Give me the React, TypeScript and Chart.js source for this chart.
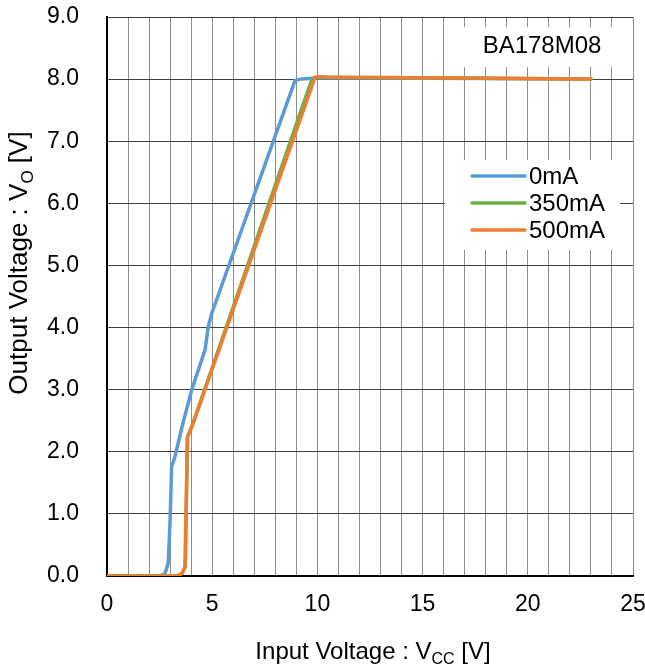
import React, { useEffect, useRef } from "react";
import { Chart, registerables } from "chart.js";

Chart.register(...registerables);

// 0 mA
const blueX = [0, 2.5, 2.76, 2.91, 3.0, 3.07, 3.23, 3.6, 4.03, 4.66, 4.81, 4.98, 8.94, 9.2, 10.2, 23.0];
const blueY = [0, 0, 0.04, 0.21, 0.9, 1.76, 1.92, 2.45, 3.0, 3.64, 4.01, 4.23, 7.98, 8.0, 8.02, 8.0];
// 350 mA
const greenX = [0, 3.3, 3.55, 3.72, 3.83, 4.05, 9.72, 9.9, 10.4, 23.0];
const greenY = [0, 0, 0.04, 0.15, 2.24, 2.42, 7.98, 8.03, 8.03, 8.0];
// 500 mA
const orangeX = [0, 3.31, 3.58, 3.71, 3.82, 4.03, 9.89, 10.05, 10.5, 15, 23.0];
const orangeY = [0, 0, 0.04, 0.15, 2.24, 2.4, 8.03, 8.04, 8.03, 8.02, 8.0];

const seriesNames = ["0mA", "350mA", "500mA"];
const seriesColors = ["#5B9BD5", "#70AD47", "#ED7D31"];
const chartTitle = "BA178M08";
const xTitleMain = "Input Voltage : V";
const xTitleSub = "CC";
const xTitleEnd = " [V]";
const yTitleMain = "Output Voltage : V";
const yTitleSub = "O";
const yTitleEnd = " [V]";

const FONT = "'Liberation Sans', Arial, sans-serif";

function pts(xs: number[], ys: number[]) {
  return xs.map((x, i) => ({ x, y: ys[i] }));
}

function drawSubText(ctx: CanvasRenderingContext2D, x: number, y: number, main: string, sub: string, end: string, size: number) {
  const subSize = Math.round(size * 0.65);
  ctx.font = `${size}px ${FONT}`;
  const w1 = ctx.measureText(main).width;
  const w3 = ctx.measureText(end).width;
  ctx.font = `${subSize}px ${FONT}`;
  const w2 = ctx.measureText(sub).width;
  const total = w1 + w2 + w3;
  let cx = x - total / 2;
  ctx.textAlign = "left";
  ctx.textBaseline = "alphabetic";
  ctx.font = `${size}px ${FONT}`;
  ctx.fillText(main, cx, y);
  cx += w1;
  ctx.font = `${subSize}px ${FONT}`;
  ctx.fillText(sub, cx, y + size * 0.22);
  cx += w2;
  ctx.font = `${size}px ${FONT}`;
  ctx.fillText(end, cx, y);
}

const overlayPlugin = {
  id: "overlay",
  afterDraw(chart: any) {
    const ctx: CanvasRenderingContext2D = chart.ctx;
    const ca = chart.chartArea;
    ctx.save();
    // title box
    ctx.fillStyle = "#ffffff";
    ctx.fillRect(ca.right - 183, ca.top + 10, 170, 40);
    ctx.fillStyle = "#000";
    ctx.font = `24px ${FONT}`;
    ctx.textAlign = "center";
    ctx.textBaseline = "middle";
    ctx.fillText(chartTitle, ca.right - 91, ca.top + 29);

    // legend box
    const lx = ca.right - 188;
    const ly = ca.top + 143;
    ctx.fillStyle = "#ffffff";
    ctx.fillRect(lx, ly, 175, 90);
    for (let i = 0; i < seriesNames.length; i++) {
      const yy = ly + 16 + i * 27;
      ctx.strokeStyle = seriesColors[i];
      ctx.lineWidth = 3.5;
      ctx.lineCap = "round";
      ctx.beginPath();
      ctx.moveTo(lx + 27, yy);
      ctx.lineTo(lx + 80, yy);
      ctx.stroke();
      ctx.fillStyle = "#000";
      ctx.font = `24px ${FONT}`;
      ctx.textAlign = "left";
      ctx.textBaseline = "middle";
      ctx.fillText(seriesNames[i], lx + 84, yy + 1);
    }

    // axis titles
    ctx.fillStyle = "#000";
    drawSubText(ctx, (ca.left + ca.right) / 2 + 3, 659, xTitleMain, xTitleSub, xTitleEnd, 24);
    ctx.save();
    ctx.translate(27, 263);
    ctx.rotate(-Math.PI / 2);
    drawSubText(ctx, 0, 0, yTitleMain, yTitleSub, yTitleEnd, 26);
    ctx.restore();
    ctx.restore();
  },
};

export default function App() {
  const ref = useRef<HTMLCanvasElement | null>(null);
  useEffect(() => {
    if (!ref.current) return;
    const mk = (i: number, xs: number[], ys: number[], order: number) => ({
      label: seriesNames[i],
      data: pts(xs, ys),
      borderColor: seriesColors[i],
      backgroundColor: seriesColors[i],
      borderWidth: 3.5,
      pointRadius: 0,
      showLine: true,
      tension: 0,
      borderJoinStyle: "round" as const,
      borderCapStyle: "round" as const,
      order,
    });
    const chart = new Chart(ref.current, {
      type: "scatter",
      data: {
        datasets: [
          mk(0, blueX, blueY, 2),
          mk(1, greenX, greenY, 1),
          mk(2, orangeX, orangeY, 0),
        ],
      },
      options: {
        responsive: false,
        animation: false,
        layout: { padding: { left: 0, top: 17, right: 12, bottom: 0 } },
        plugins: {
          legend: { display: false },
          tooltip: { enabled: false },
          title: { display: false },
        },
        scales: {
          x: {
            type: "linear",
            min: 0,
            max: 25,
            afterFit: (s: any) => {
              s.height = 92;
              s.paddingLeft = 0;
              s.paddingRight = 0;
            },
            ticks: {
              stepSize: 1,
              autoSkip: false,
              maxRotation: 0,
              padding: 15,
              color: "#000",
              font: { family: FONT, size: 23 },
              callback: (v: any) => (Number(v) % 5 === 0 ? String(v) : ""),
            },
            grid: { color: "#8c8c8c", lineWidth: 1, drawTicks: false },
            border: { color: "#000", width: 2 },
          },
          y: {
            type: "linear",
            min: 0,
            max: 9,
            afterFit: (s: any) => {
              s.width = 107;
              s.paddingTop = 0;
              s.paddingBottom = 0;
            },
            ticks: {
              stepSize: 1,
              padding: 28,
              color: "#000",
              font: { family: FONT, size: 23 },
              callback: (v: any) => Number(v).toFixed(1),
            },
            grid: { color: "#404040", lineWidth: 1, drawTicks: false },
            border: { color: "#000", width: 2 },
          },
        },
      },
      plugins: [overlayPlugin],
    });
    return () => chart.destroy();
  }, []);
  return (
    <div style={{ position: "absolute", left: 0, top: 0, width: 645, height: 668, background: "#fff" }}>
      <canvas ref={ref} width={645} height={668} style={{ display: "block" }} />
    </div>
  );
}
